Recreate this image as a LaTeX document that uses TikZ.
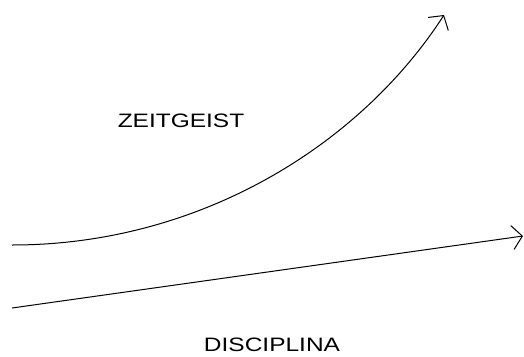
\documentclass[tikz,border=0pt]{standalone}
\usepackage{fontspec}
\setmainfont{Liberation Sans}
\usepackage{tikz}
\usetikzlibrary{arrows.meta}

\begin{document}
\begin{tikzpicture}[x=1bp,y=1bp,>={Straight Barb[length=10bp,width=24bp]},line width=1bp,
    label/.style={font=\fontsize{19.5}{22}\selectfont,inner sep=0pt,xscale=1.26}]
      \useasboundingbox (0,0) rectangle (524,356);
      \coordinate (zstart) at (12,111);
      \coordinate (zend) at (444,341);
      \coordinate (dstart) at (12,48);
      \coordinate (dend) at (523,120);
      \draw[->] (zstart) .. controls (200,111) and (360,211) .. (zend);
      \draw[->] (dstart) -- (dend);
      \node[label] (zeit) at (181,235) {ZEITGEIST};
      \node[label] (disc) at (272,11) {DISCIPLINA};
    \end{tikzpicture}
\end{document}
